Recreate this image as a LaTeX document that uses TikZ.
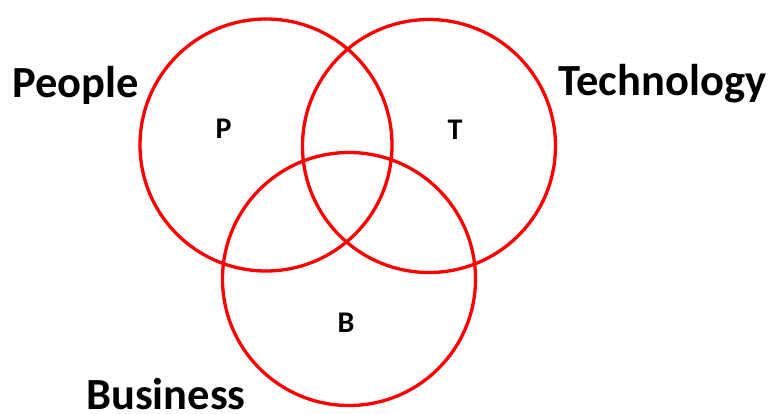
\documentclass[tikz,border=0pt]{standalone}
\usepackage{fontspec}
\setmainfont{Carlito}
\begin{document}
\begin{tikzpicture}[x=1pt,y=-1pt,
  ring/.style={draw=red, line width=3.3pt},
  biglabel/.style={font=\bfseries\fontsize{44.5}{48}\selectfont, inner sep=0pt, anchor=base west},
  letter/.style={font=\bfseries\fontsize{30}{33}\selectfont, inner sep=0pt}]
\useasboundingbox (0,0) rectangle (771,413);
\node[ring, circle, minimum size=252pt, inner sep=0pt] (cp) at (266,145) {};
\node[ring, circle, minimum size=253pt, inner sep=0pt] (ct) at (429,146) {};
\node[ring, circle, minimum size=253pt, inner sep=0pt] (cb) at (349,279) {};
\node[biglabel] (people) at (12,97) {People};
\node[biglabel] (tech) at (558,95) {Technology};
\node[biglabel] (bus) at (86,409) {Business};
\node[letter] (lp) at (223.5,128.5) {P};
\node[letter] (lt) at (455,130) {T};
\node[letter] (lb) at (346,323) {B};
\end{tikzpicture}
\end{document}
